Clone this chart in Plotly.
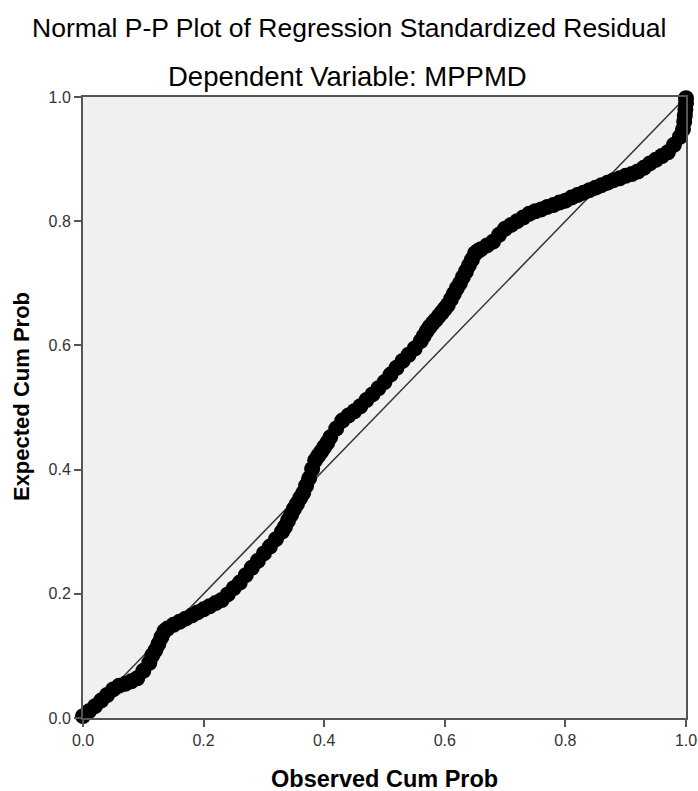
import plotly.graph_objects as go

# Observed cumulative probability (x) and expected cumulative probability (y)
observed_cum_prob = [
    0.00, 0.01, 0.02, 0.03, 0.04, 0.05, 0.06, 0.07, 0.08, 0.09,
    0.10, 0.11, 0.115, 0.12, 0.125, 0.13, 0.135, 0.14, 0.15, 0.16,
    0.17, 0.18, 0.19, 0.20, 0.21, 0.22, 0.23, 0.24, 0.25, 0.26,
    0.27, 0.28, 0.29, 0.30, 0.31, 0.32, 0.33, 0.335, 0.34, 0.345,
    0.35, 0.355, 0.36, 0.365, 0.37, 0.375, 0.38, 0.385, 0.39, 0.395,
    0.40, 0.405, 0.41, 0.42, 0.43, 0.44, 0.45, 0.46, 0.47, 0.48,
    0.49, 0.50, 0.51, 0.52, 0.53, 0.54, 0.55, 0.56, 0.565, 0.57,
    0.575, 0.58, 0.585, 0.59, 0.595, 0.60, 0.605, 0.61, 0.615, 0.62,
    0.625, 0.63, 0.635, 0.64, 0.645, 0.65, 0.655, 0.66, 0.67, 0.68,
    0.69, 0.70, 0.71, 0.72, 0.73, 0.74, 0.75, 0.76, 0.77, 0.78,
    0.79, 0.80, 0.81, 0.82, 0.83, 0.84, 0.85, 0.86, 0.87, 0.88,
    0.89, 0.90, 0.91, 0.92, 0.93, 0.94, 0.95, 0.96, 0.97, 0.98,
    0.99, 0.995, 0.997, 0.998, 0.999, 1.000, 1.000,
]
expected_cum_prob = [
    0.003, 0.011, 0.019, 0.028, 0.037, 0.046, 0.052, 0.055, 0.059, 0.064,
    0.076, 0.089, 0.101, 0.109, 0.119, 0.130, 0.140, 0.144, 0.150, 0.155,
    0.160, 0.165, 0.170, 0.175, 0.180, 0.185, 0.190, 0.199, 0.209, 0.218,
    0.230, 0.242, 0.253, 0.265, 0.276, 0.288, 0.300, 0.308, 0.318, 0.327,
    0.337, 0.345, 0.354, 0.362, 0.374, 0.386, 0.401, 0.415, 0.422, 0.429,
    0.436, 0.443, 0.452, 0.466, 0.479, 0.487, 0.494, 0.502, 0.512, 0.521,
    0.531, 0.541, 0.553, 0.564, 0.575, 0.585, 0.595, 0.607, 0.615, 0.623,
    0.630, 0.636, 0.641, 0.647, 0.653, 0.659, 0.665, 0.674, 0.683, 0.692,
    0.700, 0.710, 0.719, 0.729, 0.738, 0.748, 0.752, 0.755, 0.761, 0.767,
    0.778, 0.788, 0.794, 0.800, 0.806, 0.812, 0.816, 0.819, 0.823, 0.826,
    0.830, 0.833, 0.838, 0.842, 0.846, 0.850, 0.854, 0.858, 0.862, 0.866,
    0.869, 0.873, 0.876, 0.880, 0.886, 0.893, 0.899, 0.905, 0.911, 0.923,
    0.936, 0.948, 0.960, 0.970, 0.980, 0.990, 0.998,
]

reference_line = [0.0, 1.0]
tick_values = [0.0, 0.2, 0.4, 0.6, 0.8, 1.0]
tick_labels = ["0.0", "0.2", "0.4", "0.6", "0.8", "1.0"]

title_text = "Normal P-P Plot of Regression Standardized Residual"
subtitle_text = "Dependent Variable: MPPMD"
x_title = "Observed Cum Prob"
y_title = "Expected Cum Prob"

FONT = "Liberation Sans, Arial, sans-serif"

fig = go.Figure()
fig.add_trace(go.Scatter(
    x=reference_line, y=reference_line, mode="lines",
    line=dict(color="#333333", width=1.5), hoverinfo="skip", showlegend=False,
))
fig.add_trace(go.Scatter(
    x=observed_cum_prob, y=expected_cum_prob, mode="markers",
    marker=dict(symbol="circle", size=16, color="#000000", line=dict(width=0)),
    cliponaxis=False, showlegend=False,
))

axis_common = dict(
    range=[0, 1], tickvals=tick_values, ticktext=tick_labels,
    showgrid=False, zeroline=False, showline=True, mirror=True,
    linecolor="#555555", linewidth=2,
    ticks="outside", ticklen=7, tickwidth=2, tickcolor="#555555",
    tickfont=dict(family=FONT, size=16, color="#333333"),
    fixedrange=True, automargin=False,
)
fig.update_xaxes(**axis_common)
fig.update_yaxes(**axis_common)

fig.update_layout(
    width=698, height=791, autosize=False,
    margin=dict(l=83, r=12, t=97, b=73, autoexpand=False),
    paper_bgcolor="#ffffff", plot_bgcolor="#f0f0f0",
    font=dict(family=FONT, color="#000000"),
    annotations=[
        dict(text=title_text, x=0.441, y=1.111, xref="paper", yref="paper",
             showarrow=False, xanchor="center", yanchor="middle",
             font=dict(family=FONT, size=26.5, color="#000000")),
        dict(text=subtitle_text, x=0.438, y=1.033, xref="paper", yref="paper",
             showarrow=False, xanchor="center", yanchor="middle",
             font=dict(family=FONT, size=27.5, color="#000000")),
        dict(text="<b>%s</b>" % x_title, x=0.5, y=-0.098, xref="paper", yref="paper",
             showarrow=False, xanchor="center", yanchor="middle",
             font=dict(family=FONT, size=23.5, color="#000000")),
        dict(text="<b>%s</b>" % y_title, x=-0.101, y=0.517, xref="paper", yref="paper",
             showarrow=False, xanchor="center", yanchor="middle", textangle=-90,
             font=dict(family=FONT, size=22, color="#000000")),
    ],
)

fig.write_html(
    "out.html",
    config={"responsive": False, "displayModeBar": False},
    post_script="document.body.style.margin='0';document.body.style.overflow='hidden';",
)
